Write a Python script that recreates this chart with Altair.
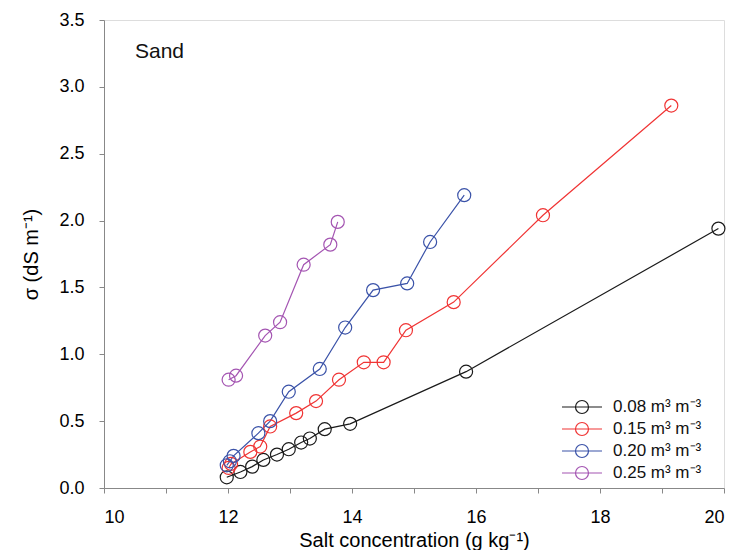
import altair as alt
import pandas as pd

# ---- data ----
series_labels = ["0.08 m³ m⁻³", "0.15 m³ m⁻³", "0.20 m³ m⁻³", "0.25 m³ m⁻³"]
series_colors = ["#1a1a1a", "#f03434", "#3a52a8", "#a455b2"]

conc_008 = [11.98, 12.20, 12.39, 12.57, 12.79, 12.98, 13.18, 13.32, 13.56, 13.97, 15.84, 19.91]
sigma_008 = [0.08, 0.12, 0.16, 0.21, 0.25, 0.29, 0.34, 0.37, 0.44, 0.48, 0.87, 1.94]

conc_015 = [12.01, 12.05, 12.36, 12.52, 12.68, 13.10, 13.42, 13.79, 14.19, 14.51, 14.87, 15.64, 17.08, 19.15]
sigma_015 = [0.15, 0.18, 0.27, 0.31, 0.46, 0.56, 0.65, 0.81, 0.94, 0.94, 1.18, 1.39, 2.04, 2.86]

conc_020 = [11.98, 12.03, 12.09, 12.49, 12.68, 12.98, 13.48, 13.89, 14.34, 14.89, 15.26, 15.81]
sigma_020 = [0.17, 0.20, 0.24, 0.41, 0.50, 0.72, 0.89, 1.20, 1.48, 1.53, 1.84, 2.19]

conc_025 = [12.01, 12.13, 12.60, 12.84, 13.22, 13.65, 13.77]
sigma_025 = [0.81, 0.84, 1.14, 1.24, 1.67, 1.82, 1.99]

x_ticks = [10, 11, 12, 13, 14, 15, 16, 17, 18, 19, 20]
y_ticks = [0.0, 0.25, 0.5, 0.75, 1.0, 1.25, 1.5, 1.75, 2.0, 2.25, 2.5, 2.75, 3.0, 3.25, 3.5]

annotation_text = ["Sand"]
annotation_x = [10.5]
annotation_y = [3.26]

# ---- build table ----
rows = []
for lab, xs, ys in zip(series_labels,
                       [conc_008, conc_015, conc_020, conc_025],
                       [sigma_008, sigma_015, sigma_020, sigma_025]):
    for i, (a, b) in enumerate(zip(xs, ys)):
        rows.append({"conc": a, "sigma": b, "series": lab, "order": i})
df = pd.DataFrame(rows)

ann = pd.DataFrame({"conc": annotation_x, "sigma": annotation_y, "text": annotation_text})

FONT = "Liberation Sans"

x_enc = alt.X(
    "conc:Q",
    scale=alt.Scale(domain=[10, 20], nice=False, zero=False),
    axis=alt.Axis(
        values=x_ticks,
        grid=False,
        labelExpr="datum.value % 2 == 0 ? format(datum.value, 'd') : ''",
        title="Salt concentration (g kg⁻¹)",
        titleFontSize=20, titleFontWeight="normal", titlePadding=4,
        labelFontSize=18, labelPadding=15, tickSize=5,
    ),
)
y_enc = alt.Y(
    "sigma:Q",
    scale=alt.Scale(domain=[0, 3.5], nice=False),
    axis=alt.Axis(
        values=y_ticks,
        grid=False,
        labelExpr="datum.value % 0.5 == 0 ? format(datum.value, '.1f') : ''",
        title="σ (dS m⁻¹)",
        titleFontSize=20, titleFontWeight="normal", titlePadding=17,
        labelFontSize=18, labelPadding=15, tickSize=5,
    ),
)

legend_symbol = "M-2,0L2,0M0.65,0A0.65,0.65,0,1,1,-0.65,0A0.65,0.65,0,1,1,0.65,0"

color_enc = alt.Color(
    "series:N",
    scale=alt.Scale(domain=series_labels, range=series_colors),
    legend=alt.Legend(
        title=None,
        orient="none",
        legendX=467,
        legendY=376,
        symbolType=legend_symbol,
        symbolSize=400,
        symbolStrokeWidth=1.2,
        symbolFillColor="transparent",
        labelFontSize=17,
        labelFont=FONT,
        labelColor="#111111",
        labelOffset=20,
        rowPadding=2,
        padding=0,
    ),
)

base = alt.Chart(df).encode(x=x_enc, y=y_enc, color=color_enc)

lines = base.mark_line(strokeWidth=1.2).encode(order="order:Q")
points = base.mark_point(shape="circle", size=170, filled=False, strokeWidth=1.2, opacity=1)

label = alt.Chart(ann).mark_text(
    align="left", baseline="middle", fontSize=21, font=FONT, color="#111111"
).encode(x="conc:Q", y="sigma:Q", text="text:N")

chart = (
    alt.layer(lines, points, label)
    .properties(
        width=620,
        height=468,
        autosize=alt.AutoSizeParams(type="none"),
        padding={"left": 96, "top": 12, "right": 5, "bottom": 62},
    )
    .configure_view(stroke="black", strokeWidth=1)
    .configure_axis(
        grid=False,
        domainColor="black",
        tickColor="black",
        labelColor="#222222",
        titleColor="#111111",
        labelFont=FONT,
        titleFont=FONT,
        domainWidth=1,
        tickWidth=1,
    )
    .configure(background="white")
)

chart.save("out.html", embed_options={"renderer": "svg", "actions": False})
